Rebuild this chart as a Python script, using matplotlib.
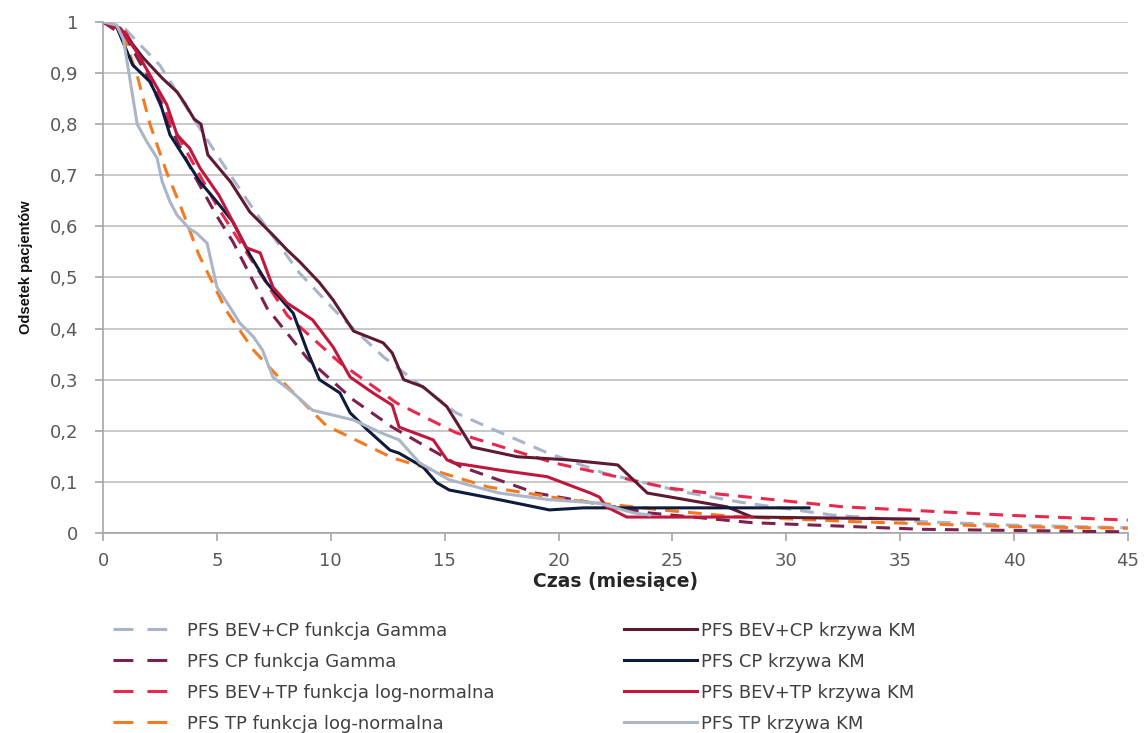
import matplotlib
matplotlib.use("Agg")
import matplotlib.pyplot as plt
from matplotlib.lines import Line2D

# ---- data ----
x_bevcp_gamma = [0, 1, 2.5, 3.7, 5, 6.5, 8.6, 10.4, 12.3, 15.5, 17, 19.5, 22, 25.5, 28, 32, 36, 40, 45]
y_bevcp_gamma = [1, 0.985, 0.915, 0.83, 0.74, 0.64, 0.51, 0.425, 0.345, 0.235, 0.205, 0.157, 0.117, 0.08, 0.06, 0.035, 0.022, 0.015, 0.01]

x_cp_gamma = [0, 1, 2, 3, 4, 5, 5.7, 7.2, 9, 11, 12.7, 15.7, 19, 24, 28.5, 36, 45]
y_cp_gamma = [1, 0.97, 0.89, 0.79, 0.7, 0.62, 0.57, 0.44, 0.34, 0.26, 0.207, 0.13, 0.078, 0.039, 0.02, 0.007, 0.002]

x_bevtp_logn = [0, 1, 2, 3, 4, 5, 6, 8.1, 10.4, 12.9, 15.5, 19.8, 24.8, 26.6, 32.5, 40, 45]
y_bevtp_logn = [1, 0.98, 0.9, 0.8, 0.72, 0.64, 0.57, 0.425, 0.333, 0.254, 0.196, 0.137, 0.088, 0.078, 0.051, 0.034, 0.025]

x_tp_logn = [0, 0.5, 1, 1.5, 2.06, 2.8, 3.4, 4.2, 5.4, 6.6, 8.1, 9.8, 12.7, 16.9, 20.4, 24.5, 27.7, 33, 40, 45]
y_tp_logn = [1, 0.995, 0.96, 0.895, 0.80, 0.705, 0.64, 0.545, 0.436, 0.358, 0.286, 0.21, 0.147, 0.09, 0.065, 0.045, 0.032, 0.022, 0.012, 0.009]

x_bevcp_km = [0, 0.75, 1.76, 2.6, 3.25, 3.6, 4.0, 4.3, 4.6, 5.6, 6.45, 7.46, 8.08, 8.65, 9.5, 10.1, 11, 12.3, 12.7, 13.2, 14.05, 15.1, 16.2, 18.2, 20.4, 22.6, 23.9, 26.1, 27.4, 28.5, 35.8]
y_bevcp_km = [1, 0.988, 0.93, 0.89, 0.863, 0.84, 0.81, 0.80, 0.74, 0.687, 0.628, 0.583, 0.554, 0.53, 0.49, 0.456, 0.395, 0.372, 0.352, 0.30, 0.286, 0.247, 0.168, 0.149, 0.143, 0.133, 0.078, 0.061, 0.051, 0.031, 0.027]

x_cp_km = [0, 0.6, 1.3, 2.06, 2.5, 2.94, 3.7, 4.26, 5.0, 5.7, 6.45, 7.2, 8.35, 8.95, 9.5, 10.4, 10.85, 11.6, 12.6, 13.0, 14.05, 14.66, 15.2, 17.4, 19.6, 21.1, 31.0]
y_cp_km = [1, 0.99, 0.916, 0.883, 0.843, 0.779, 0.726, 0.687, 0.648, 0.609, 0.544, 0.489, 0.43, 0.358, 0.30, 0.274, 0.235, 0.202, 0.162, 0.156, 0.129, 0.098, 0.084, 0.065, 0.045, 0.049, 0.049]

x_bevtp_km = [0, 0.8, 1.5, 2.06, 2.8, 3.25, 3.8, 4.26, 5.1, 5.7, 6.3, 6.9, 7.46, 8.08, 9.2, 10.1, 10.85, 11.85, 12.7, 13.0, 14.5, 15.1, 15.4, 17.4, 19.5, 21.4, 21.8, 22.1, 23.0, 28.5]
y_bevtp_km = [1, 0.985, 0.94, 0.896, 0.838, 0.779, 0.753, 0.714, 0.66, 0.609, 0.558, 0.548, 0.481, 0.45, 0.417, 0.364, 0.305, 0.274, 0.25, 0.207, 0.182, 0.143, 0.137, 0.123, 0.11, 0.078, 0.07, 0.051, 0.031, 0.031]

x_tp_km = [0, 0.6, 0.9, 1.5, 1.93, 2.37, 2.6, 2.94, 3.25, 3.8, 4.1, 4.57, 5.0, 5.57, 6.0, 6.6, 7.0, 7.46, 8.35, 9.2, 11.0, 12.2, 13.0, 13.9, 15.2, 17.4, 19.6, 21.8, 23.3, 24.0]
y_tp_km = [1, 0.994, 0.965, 0.80, 0.765, 0.734, 0.687, 0.648, 0.622, 0.595, 0.587, 0.567, 0.481, 0.442, 0.411, 0.384, 0.358, 0.305, 0.274, 0.24, 0.221, 0.196, 0.182, 0.137, 0.104, 0.078, 0.065, 0.058, 0.039, 0.035]

labels_fit = ["PFS BEV+CP funkcja Gamma", "PFS CP funkcja Gamma",
              "PFS BEV+TP funkcja log-normalna", "PFS TP funkcja log-normalna"]
labels_km = ["PFS BEV+CP krzywa KM", "PFS CP krzywa KM",
             "PFS BEV+TP krzywa KM", "PFS TP krzywa KM"]

x_ticks = [0, 5, 10, 15, 20, 25, 30, 35, 40, 45]
y_ticks = [0, 0.1, 0.2, 0.3, 0.4, 0.5, 0.6, 0.7, 0.8, 0.9, 1]
y_tick_labels = ["0", "0,1", "0,2", "0,3", "0,4", "0,5", "0,6", "0,7", "0,8", "0,9", "1"]

# ---- style ----
c_fit = ["#a9b4cb", "#7b2150", "#e8294d", "#f47920"]
c_km = ["#5e1a33", "#0f1b3d", "#c0173d", "#aab6c8"]
dash = (0, (4.5, 3))
leg_dash = (0, (6.5, 4.6))
lw = 2.2

fig = plt.figure(figsize=(11.45, 7.33), dpi=100)
ax = fig.add_axes([0.09, 0.273, 0.895, 0.697])

fits = [(x_bevcp_gamma, y_bevcp_gamma), (x_cp_gamma, y_cp_gamma),
        (x_bevtp_logn, y_bevtp_logn), (x_tp_logn, y_tp_logn)]
kms = [(x_bevcp_km, y_bevcp_km), (x_cp_km, y_cp_km),
       (x_bevtp_km, y_bevtp_km), (x_tp_km, y_tp_km)]

for (xs, ys), c in zip(fits, c_fit):
    ax.plot(xs, ys, color=c, lw=lw, linestyle=dash, zorder=3)
h_km = []
for (xs, ys), c, lab in zip(kms, c_km, labels_km):
    h, = ax.plot(xs, ys, color=c, lw=lw, label=lab, zorder=4)
    h_km.append(h)

ax.set_xlim(0, 45)
ax.set_ylim(0, 1)
ax.set_xticks(x_ticks)
ax.set_yticks(y_ticks)
ax.set_yticklabels(y_tick_labels)
for t in ax.get_xticklabels() + ax.get_yticklabels():
    t.set_fontsize(13)
    t.set_color("#595959")
ax.grid(axis="y", color="#bfbfbf", lw=1.2)
ax.set_axisbelow(True)
for s in ["top", "right"]:
    ax.spines[s].set_visible(False)
for s in ["left", "bottom"]:
    ax.spines[s].set_color("#a6a6a6")
    ax.spines[s].set_linewidth(1.2)
ax.tick_params(axis="both", color="#a6a6a6", length=6, width=1.2, direction="out")
ax.tick_params(axis="x", pad=8)
ax.tick_params(axis="y", pad=12)

ax.set_xlabel("Czas (miesiące)", fontsize=13.5, fontweight="bold", color="#262626",
              va="top")
ax.xaxis.set_label_coords(0.5, -0.077)
ax.set_ylabel("Odsetek pacjentów", fontsize=10.5, fontweight="bold",
              family=["Liberation Sans", "DejaVu Sans"], color="#111111")
ax.yaxis.set_label_coords(-0.068, 0.52)

h_fit = [Line2D([], [], color=c, lw=lw, linestyle=leg_dash, label=lab)
         for c, lab in zip(c_fit, labels_fit)]

leg_kw = dict(frameon=False, fontsize=13, labelspacing=0.72,
              borderaxespad=0, borderpad=0, labelcolor="#404040")
fig.legend(handles=h_fit, loc="upper left", bbox_to_anchor=(0.0987, 0.152),
           handlelength=3.0, handletextpad=1.1, **leg_kw)
fig.legend(handles=h_km, loc="upper left", bbox_to_anchor=(0.545, 0.152),
           handlelength=4.05, handletextpad=0.2, **leg_kw)

fig.savefig("out.png", dpi=100)
